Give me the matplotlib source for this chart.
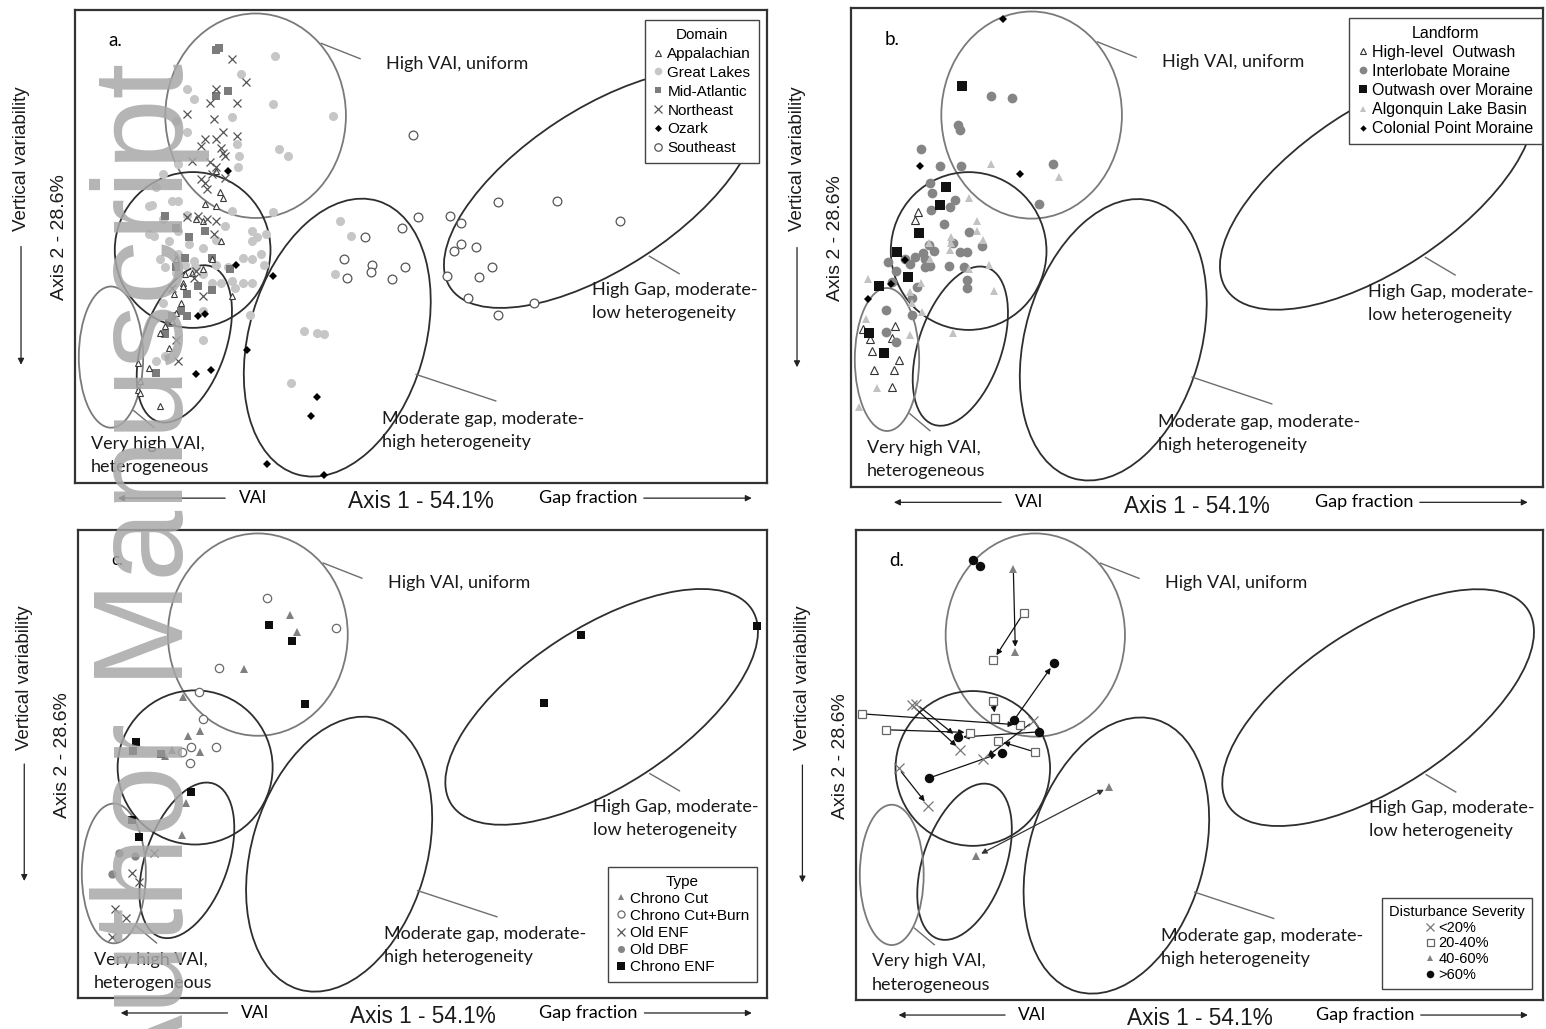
import matplotlib
matplotlib.use("Agg")
import matplotlib.pyplot as plt
from matplotlib.patches import Ellipse
from matplotlib.lines import Line2D

plt.rcParams['font.family'] = ['Liberation Sans', 'DejaVu Sans']

# ---------------- data (ordination scores, arbitrary units: Axis1 0-100, Axis2 0-68) -------------
# Panel a: Domain
app_x = [20.4, 21.0, 21.4, 18.8, 20.4, 17.5, 18.5, 21.1, 14.6, 19.8, 18.5, 15.6, 14.3, 15.6, 22.7,
         15.3, 14.6, 14.0, 13.0, 12.3, 13.6, 10.7, 9.1, 9.4, 9.1, 9.4, 12.3, 15.9, 16.9]
app_y = [44.9, 41.8, 41.0, 40.1, 39.8, 37.9, 37.7, 34.8, 32.2, 32.2, 30.7, 28.8, 27.1, 28.3, 26.9,
         25.9, 24.5, 23.3, 22.6, 21.6, 19.4, 16.6, 17.3, 14.6, 13.4, 13.0, 11.0, 30.0, 30.2]
gl_x = [28.9, 24.0, 16.2, 17.2, 28.6, 37.3, 22.7, 14.6, 16.2, 23.4, 29.5, 30.8, 23.7, 14.9, 12.7,
        11.7, 14.0, 10.7, 14.9, 16.2, 22.7, 28.6, 12.7, 14.9, 11.4, 13.6, 25.6, 26.3, 27.6, 21.7,
        12.3, 13.0, 15.9, 17.2, 20.4, 24.3, 25.6, 26.9, 27.3, 22.1, 18.5, 21.1, 24.3, 25.6, 22.7,
        19.8, 14.9, 16.5, 18.5, 20.4, 38.3, 39.9, 37.6, 25.3, 18.5, 33.1, 35.0, 36.0, 31.2, 11.7,
        13.0, 12.7, 18.5, 10.7, 25.6, 14.6, 23.6, 17.3, 23.1, 11.1]
gl_y = [61.4, 58.8, 56.6, 55.2, 54.5, 52.8, 52.6, 52.1, 50.4, 48.7, 48.0, 47.0, 47.0, 45.8, 44.4,
        42.5, 40.6, 39.8, 40.6, 38.6, 39.1, 38.9, 37.9, 36.2, 35.5, 34.8, 36.2, 35.3, 35.8, 37.0,
        32.2, 31.0, 31.4, 31.9, 31.4, 32.4, 32.2, 32.9, 31.4, 31.0, 30.0, 28.8, 28.8, 28.8, 29.0,
        28.8, 32.9, 34.3, 33.8, 35.0, 37.7, 35.5, 30.0, 24.2, 20.6, 21.8, 21.6, 21.4, 14.4, 17.5,
        18.2, 25.9, 24.7, 35.8, 34.8, 30.2, 45.4, 31.1, 28.0, 40.0]
ma_x = [20.8, 20.4, 22.1, 20.4, 13.0, 14.6, 16.5, 18.8, 19.8, 15.9, 14.6, 22.4, 17.8, 19.8, 16.2,
        15.3, 16.2, 14.0, 13.6, 11.7, 13.0]
ma_y = [62.6, 62.2, 56.4, 55.7, 38.4, 36.7, 35.3, 36.2, 32.4, 32.4, 31.0, 30.7, 28.3, 27.8, 27.1,
        24.7, 24.0, 24.0, 23.0, 15.8, 21.4]
ne_x = [22.7, 24.7, 20.4, 19.5, 23.4, 16.2, 20.1, 21.4, 23.4, 18.8, 20.4, 21.1, 18.2, 21.4, 16.9,
        19.5, 20.4, 21.7, 19.8, 18.8, 19.1, 18.2, 16.2, 17.8, 19.1, 20.4, 20.1, 17.2, 18.5, 14.6,
        14.9, 17.5, 14.0, 21.7]
ne_y = [61.0, 57.6, 56.6, 54.7, 54.7, 53.0, 52.3, 50.4, 49.9, 49.4, 49.4, 48.2, 48.5, 47.5, 46.3,
        46.1, 45.4, 43.9, 44.4, 43.2, 42.2, 43.7, 38.2, 38.4, 37.9, 37.7, 35.8, 29.5, 26.9, 20.6,
        17.5, 30.5, 28.1, 47.0]
oz_x = [22.1, 23.2, 28.6, 17.8, 18.8, 24.8, 17.5, 19.6, 34.9, 34.1, 27.7, 36.0]
oz_y = [44.9, 31.3, 29.8, 24.0, 24.3, 19.1, 15.7, 16.2, 12.4, 9.7, 2.7, 1.2]
se_x = [48.8, 61.1, 69.6, 78.7, 49.5, 54.2, 55.8, 47.2, 41.9, 55.8, 58.0, 54.8, 38.9, 42.9, 47.7,
        60.2, 42.8, 39.3, 45.8, 53.7, 58.4, 56.8, 66.3, 61.1]
se_y = [50.1, 40.4, 40.6, 37.6, 38.2, 38.4, 37.4, 36.7, 35.4, 34.4, 33.9, 33.3, 32.2, 31.4, 31.1,
        31.1, 30.4, 29.5, 29.3, 29.8, 29.6, 26.6, 25.9, 24.2]

# Panel b: Landform
hlo_x = [9.7, 9.2, 6.4, 1.7, 2.8, 5.9, 3.1, 7.0, 6.2, 3.3, 5.9]
hlo_y = [39.1, 37.9, 22.8, 22.4, 21.0, 21.1, 19.3, 18.0, 16.6, 16.6, 14.2]
im_x = [20.3, 23.2, 15.5, 15.8, 10.1, 12.9, 15.9, 29.2, 11.4, 11.7, 15.0, 14.3, 11.6, 27.1, 13.4,
        17.0, 9.2, 10.4, 11.2, 12.0, 14.7, 15.8, 16.7, 19.0, 10.7, 11.4, 14.2, 16.3, 8.5, 5.4,
        6.5, 5.9, 9.5, 16.7, 16.8, 8.8, 8.8, 5.1, 5.1, 6.5, 7.8, 10.7]
im_y = [55.5, 55.2, 51.4, 50.7, 48.0, 45.5, 45.5, 45.8, 43.2, 41.7, 40.7, 39.7, 39.3, 40.2, 37.3,
        36.2, 32.7, 33.2, 34.3, 33.5, 34.7, 33.3, 33.3, 34.2, 31.3, 31.4, 31.4, 31.2, 31.7, 31.9,
        30.6, 29.1, 28.4, 29.4, 28.2, 26.8, 24.4, 25.1, 22.0, 20.6, 32.4, 32.4]
owm_x = [16.1, 13.8, 12.9, 9.8, 6.6, 8.3, 4.1, 2.6, 4.7]
owm_y = [56.9, 42.6, 40.0, 36.1, 33.3, 29.8, 28.6, 21.8, 19.0]
alb_x = [20.3, 30.1, 17.1, 18.2, 18.2, 14.5, 19.1, 11.3, 14.5, 20.0, 2.5, 10.1, 20.7, 8.5, 10.2,
         2.2, 14.8, 8.5, 3.8, 1.1, 17.0, 14.3, 11.4, 8.8]
alb_y = [45.8, 44.0, 41.0, 37.7, 36.4, 35.5, 35.0, 34.6, 34.6, 31.5, 29.5, 28.9, 27.8, 27.7, 24.9,
         23.9, 21.9, 21.6, 14.0, 11.4, 31.0, 33.6, 32.4, 26.1]
cpm_x = [22.0, 10.0, 24.4, 7.8, 5.8, 2.4]
cpm_y = [66.5, 45.5, 44.5, 32.2, 28.8, 26.7]

# Panel c: Type
cc_x = [30.7, 31.8, 24.1, 15.3, 15.9, 17.7, 13.6, 17.7, 12.6, 15.7, 15.1]
cc_y = [55.7, 53.2, 47.8, 43.8, 38.0, 38.8, 36.0, 35.8, 35.1, 28.4, 23.7]
ccb_x = [27.5, 37.4, 20.5, 17.5, 18.2, 16.4, 15.1, 20.1, 16.3]
ccb_y = [58.1, 53.7, 47.9, 44.4, 40.5, 36.4, 35.7, 36.4, 34.2]
oenf_x = [11.0, 7.8, 8.8, 5.3, 7.0, 5.0]
oenf_y = [21.0, 18.1, 16.9, 13.0, 11.6, 8.9]
odbf_x = [5.9, 8.3, 4.9]
odbf_y = [21.0, 20.7, 18.0]
cenf_x = [27.7, 31.1, 32.9, 8.4, 8.0, 12.0, 16.4, 7.9, 8.8, 73.0, 98.5, 67.7]
cenf_y = [54.2, 51.9, 42.7, 37.2, 35.9, 35.5, 29.9, 25.9, 23.4, 52.7, 54.1, 42.8]

# Panel d: Disturbance severity
d20_x = [8.1, 8.8, 25.8, 15.2, 18.5, 6.2, 10.5]
d20_y = [42.7, 42.8, 40.3, 36.2, 34.8, 33.5, 28.1]
d40_x = [24.4, 20.0, 19.9, 20.3, 0.9, 4.3, 23.8, 16.6, 20.7, 26.0]
d40_y = [56.0, 49.2, 43.3, 40.8, 41.4, 39.1, 39.8, 38.7, 37.5, 35.9]
d60_x = [22.9, 23.2, 36.8, 17.5]
d60_y = [62.4, 50.3, 30.8, 20.8]
d100_x = [17.1, 18.1, 28.8, 23.0, 26.7, 14.8, 21.2, 10.6]
d100_y = [63.7, 62.8, 48.7, 40.5, 38.8, 38.0, 35.8, 32.1]
# trajectories (from -> to)
arr_x0 = [22.9, 24.4, 23.0, 19.9, 0.9, 4.3, 8.8, 8.1, 26.7, 25.8, 10.6, 26.0, 6.2]
arr_y0 = [62.4, 56.0, 40.5, 43.3, 41.4, 39.1, 42.8, 42.7, 38.8, 40.3, 32.1, 35.9, 33.5]
arr_x1 = [23.2, 20.0, 28.8, 20.3, 23.8, 16.6, 14.8, 15.2, 14.8, 18.5, 21.2, 20.7, 10.5]
arr_y1 = [50.3, 49.2, 48.7, 40.8, 39.8, 38.7, 38.0, 36.2, 38.0, 34.8, 35.8, 37.5, 28.1]
dbl_x = [17.5, 36.8]
dbl_y = [20.8, 30.8]

# Cluster ellipses (centre, width, height, angle)
ell_cx = [26.1, 17.0, 15.8, 5.2, 37.9, 76.0]
ell_cy = [52.8, 33.5, 20.0, 18.1, 20.9, 42.3]
ell_w = [26.1, 22.5, 23.6, 9.3, 41.0, 52.0]
ell_h = [29.4, 22.4, 12.0, 20.3, 25.4, 23.0]
ell_ang = [0, 0, 70.6, 0, 73.4, 33]
ell_col = ['#7a7a7a', '#2e2e2e', '#2e2e2e', '#7a7a7a', '#2e2e2e', '#2e2e2e']

region_labels = ['High VAI, uniform', 'High Gap, moderate-\nlow heterogeneity',
                 'Moderate gap, moderate-\nhigh heterogeneity', 'Very high VAI,\nheterogeneous']
label_x = [45.0, 74.7, 44.4, 2.3]
label_y = [60.3, 26.1, 7.6, 3.9]
lead_x0 = [35.6, 83.0, 49.3, 8.5]
lead_y0 = [63.2, 32.6, 15.6, 10.4]
lead_x1 = [41.2, 87.3, 60.8, 11.4]
lead_y1 = [61.0, 30.1, 11.8, 8.0]

LABEL_FONT = ['Lato', 'DejaVu Sans']

fig = plt.figure(figsize=(15.46, 10.29), dpi=100)
W, H = 1546.0, 1029.0
frames = {'a': (75, 10, 767, 483), 'b': (851, 8, 1543, 487),
          'c': (78, 530, 767, 998), 'd': (856, 530, 1543, 1000)}
axes = {}
for k, (l, t, r, b) in frames.items():
    axes[k] = fig.add_axes([l / W, 1 - b / H, (r - l) / W, (b - t) / H])


def base(ax, letter, letter_fs=13.5):
    ax.set_xlim(0, 100)
    ax.set_ylim(0, 68)
    ax.set_xticks([])
    ax.set_yticks([])
    for s in ax.spines.values():
        s.set_color('#333333')
        s.set_linewidth(1.6)
    for cx, cy, w, h, a, c in zip(ell_cx, ell_cy, ell_w, ell_h, ell_ang, ell_col):
        ax.add_patch(Ellipse((cx, cy), w, h, angle=a, fill=False, edgecolor=c,
                             lw=1.3, zorder=1))
    for x0, y0, x1, y1 in zip(lead_x0, lead_y0, lead_x1, lead_y1):
        ax.plot([x0, x1], [y0, y1], color='#6e6e6e', lw=1.0, zorder=1)
    for t, x, y in zip(region_labels, label_x, label_y):
        ax.text(x, y, t, ha='left', va='center', fontsize=13, family=LABEL_FONT,
                linespacing=1.55, color='#1a1a1a', zorder=2)
    ax.text(0.048, 0.935, letter, transform=ax.transAxes, fontsize=letter_fs,
            family=LABEL_FONT, ha='left', va='center')
    # axis annotations
    ax.text(0.5, -0.04, 'Axis 1 - 54.1%', transform=ax.transAxes, ha='center',
            va='center', fontsize=16.3, color='#1a1a1a')
    ax.text(0.257, -0.032, 'VAI', transform=ax.transAxes, ha='center', va='center',
            fontsize=12.5, family=LABEL_FONT)
    ax.text(0.741, -0.032, 'Gap fraction', transform=ax.transAxes, ha='center',
            va='center', fontsize=13, family=LABEL_FONT)
    ap = dict(arrowstyle='-|>', color='#222222', lw=0.9, mutation_scale=9,
              shrinkA=0, shrinkB=0)
    ax.annotate('', xy=(0.062, -0.032), xytext=(0.217, -0.032), xycoords='axes fraction',
                textcoords='axes fraction', arrowprops=ap, annotation_clip=False)
    ax.annotate('', xy=(0.978, -0.032), xytext=(0.822, -0.032), xycoords='axes fraction',
                textcoords='axes fraction', arrowprops=ap, annotation_clip=False)
    ax.text(-0.078, 0.685, 'Vertical variability', transform=ax.transAxes, rotation=90,
            ha='center', va='center', fontsize=13.5, color='#1a1a1a')
    ax.annotate('', xy=(-0.078, 0.25), xytext=(-0.078, 0.5), xycoords='axes fraction',
                textcoords='axes fraction', arrowprops=ap, annotation_clip=False)
    ax.text(-0.022, 0.52, 'Axis 2 - 28.6%', transform=ax.transAxes, rotation=90,
            ha='center', va='center', fontsize=14, color='#1a1a1a')


def legend(ax, handles, labels, title, loc, anchor, fs=11.0, tfs=11.0, ls=0.25):
    lg = ax.legend(handles, labels, title=title, loc=loc, bbox_to_anchor=anchor,
                   borderaxespad=0, fontsize=fs, title_fontsize=tfs, frameon=True,
                   fancybox=False, handlelength=0.7, handletextpad=0.25,
                   labelspacing=ls, borderpad=0.5, framealpha=1)
    lg.get_frame().set_edgecolor('#444444')
    lg.get_frame().set_linewidth(1.0)
    lg.set_zorder(5)
    return lg


def mk(marker, ms, fc, ec, mew=0.9):
    return dict(marker=marker, ms=ms, mfc=fc, mec=ec, mew=mew, ls='none')


# ---------------- panel a ----------------
ax = axes['a']
base(ax, 'a.')
sty_a = [mk('^', 5, 'white', '#3a3a3a', 0.8), mk('o', 6.5, '#c6c6c6', '#c6c6c6', 0),
         mk('s', 5.8, '#7c7c7c', '#7c7c7c', 0), mk('x', 6, '#555555', '#555555', 0.9),
         mk('D', 4.2, 'black', 'black', 0), mk('o', 6.3, 'white', '#555555', 0.9)]
data_a = [(gl_x, gl_y, 1), (ma_x, ma_y, 2), (app_x, app_y, 0), (ne_x, ne_y, 3),
          (oz_x, oz_y, 4), (se_x, se_y, 5)]
for x, y, i in data_a:
    ax.plot(x, y, zorder=3, **sty_a[i])
h = [Line2D([], [], **dict(s, ms=s['ms'] * 0.85)) for s in sty_a]
legend(ax, h, ['Appalachian', 'Great Lakes', 'Mid-Atlantic', 'Northeast', 'Ozark', 'Southeast'],
       'Domain', 'upper right', (0.988, 0.978), ls=0.32)

# ---------------- panel b ----------------
ax = axes['b']
base(ax, 'b.')
sty_b = [mk('^', 5.5, 'white', '#333333', 0.8), mk('o', 7, '#858585', '#858585', 0),
         mk('s', 6.5, '#111111', '#111111', 0), mk('^', 6, '#c2c2c2', '#c2c2c2', 0),
         mk('D', 4, 'black', 'black', 0)]
for (x, y), s in zip([(hlo_x, hlo_y), (im_x, im_y), (owm_x, owm_y), (alb_x, alb_y),
                      (cpm_x, cpm_y)], sty_b):
    ax.plot(x, y, zorder=3, **s)
h = [Line2D([], [], **dict(s, ms=s['ms'] * 0.8)) for s in sty_b]
legend(ax, h, ['High-level  Outwash', 'Interlobate Moraine', 'Outwash over Moraine',
               'Algonquin Lake Basin', 'Colonial Point Moraine'],
       'Landform', 'upper right', (0.998, 0.98), fs=11.5, tfs=11.5, ls=0.26)

# ---------------- panel c ----------------
ax = axes['c']
base(ax, 'c.', letter_fs=12)
sty_c = [mk('^', 5.5, '#808080', '#808080', 0), mk('o', 6, 'white', '#6a6a6a', 0.9),
         mk('x', 6, '#555555', '#555555', 0.9), mk('o', 6, '#858585', '#858585', 0),
         mk('s', 6, '#0d0d0d', '#0d0d0d', 0)]
for (x, y), s in zip([(cc_x, cc_y), (ccb_x, ccb_y), (oenf_x, oenf_y), (odbf_x, odbf_y),
                      (cenf_x, cenf_y)], sty_c):
    ax.plot(x, y, zorder=3, **s)
h = [Line2D([], [], **dict(s, ms=s['ms'] * 0.85)) for s in sty_c]
legend(ax, h, ['Chrono Cut', 'Chrono Cut+Burn', 'Old ENF', 'Old DBF', 'Chrono ENF'],
       'Type', 'lower right', (0.985, 0.035), ls=0.2)

# ---------------- panel d ----------------
ax = axes['d']
base(ax, 'd.')
for x0, y0, x1, y1 in zip(arr_x0, arr_y0, arr_x1, arr_y1):
    ax.annotate('', xy=(x1, y1), xytext=(x0, y0),
                arrowprops=dict(arrowstyle='-|>', color='#111111', lw=0.9,
                                mutation_scale=8, shrinkA=3, shrinkB=4), zorder=2)
ax.annotate('', xy=(dbl_x[1], dbl_y[1]), xytext=(dbl_x[0], dbl_y[0]),
            arrowprops=dict(arrowstyle='<|-|>', color='#333333', lw=0.9,
                            mutation_scale=8, shrinkA=4, shrinkB=4), zorder=2)
sty_d = [mk('x', 6.5, '#777777', '#777777', 0.9), mk('s', 6.3, 'white', '#666666', 0.9),
         mk('^', 6, '#808080', '#808080', 0), mk('o', 6.8, '#0d0d0d', '#0d0d0d', 0)]
for (x, y), s in zip([(d20_x, d20_y), (d40_x, d40_y), (d60_x, d60_y), (d100_x, d100_y)], sty_d):
    ax.plot(x, y, zorder=3, **s)
h = [Line2D([], [], **dict(s, ms=s['ms'] * 0.8)) for s in sty_d]
legend(ax, h, ['<20%', '20-40%', '40-60%', '>60%'], 'Disturbance Severity',
       'lower right', (0.984, 0.023), fs=10.5, tfs=10.5, ls=0.12)

# watermark
fig.text(150 / W, 1 - 581 / H, 'Author Manuscript', rotation=90, fontsize=92,
         color='#a8a8a8', alpha=0.85, ha='center', va='center', zorder=10)

fig.savefig('out.png', dpi=100)
